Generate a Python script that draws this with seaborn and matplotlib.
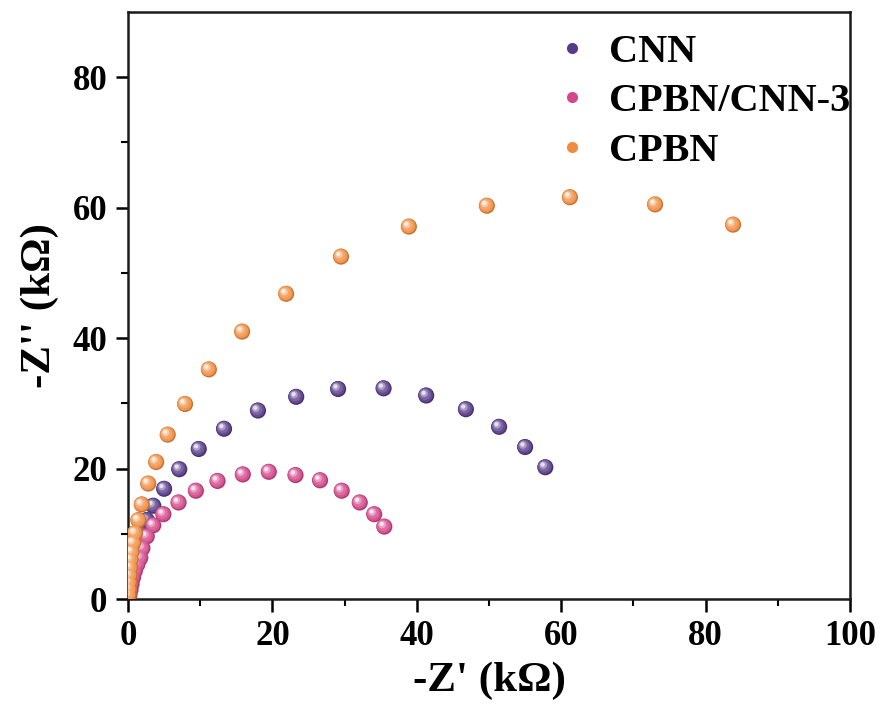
import numpy as np
import pandas as pd
import matplotlib
matplotlib.use("Agg")
import matplotlib.pyplot as plt
import matplotlib.transforms as mtransforms
from matplotlib.colors import to_rgb
from matplotlib.lines import Line2D
import seaborn as sns

# ---- data ----
series_names = ["CNN", "CPBN/CNN-3", "CPBN"]
cnn_x = [0.1, 0.2, 0.35, 0.55, 0.8, 1.2, 1.8, 2.6, 3.5, 5.0, 7.1, 9.8, 13.3, 18.0,
         23.3, 29.1, 35.4, 41.3, 46.8, 51.4, 55.0, 57.8]
cnn_y = [0.8, 1.8, 3.0, 4.5, 6.2, 8.1, 10.1, 12.1, 14.3, 16.9, 19.9, 23.0, 26.1, 28.9,
         31.0, 32.2, 32.3, 31.2, 29.1, 26.4, 23.3, 20.2]
mix_x = [0.2, 0.35, 0.5, 0.7, 0.95, 1.3, 1.7, 2.0, 2.6, 3.5, 4.9, 7.0, 9.4, 12.4,
         15.9, 19.5, 23.2, 26.6, 29.6, 32.1, 34.1, 35.5]
mix_y = [0.6, 1.4, 2.3, 3.3, 4.3, 5.3, 6.3, 7.8, 9.6, 11.3, 13.0, 14.8, 16.6, 18.1,
         19.1, 19.5, 19.0, 18.2, 16.6, 14.8, 13.0, 11.1]
cpbn_x = [0.08, 0.12, 0.16, 0.22, 0.3, 0.37, 0.5, 0.73, 0.97, 1.43, 1.9, 2.8, 3.9, 5.5,
          7.9, 11.2, 15.8, 21.9, 29.5, 38.9, 49.7, 61.2, 73.0, 83.8]
cpbn_y = [0.6, 1.5, 2.5, 3.6, 4.8, 6.0, 7.2, 8.6, 10.1, 12.1, 14.5, 17.7, 21.0, 25.2,
          29.9, 35.2, 41.0, 46.8, 52.5, 57.1, 60.3, 61.6, 60.5, 57.4]
colors = ["#573a88", "#d4458a", "#f08c40"]

x_ticks = [0, 20, 40, 60, 80, 100]
y_ticks = [0, 20, 40, 60, 80]

df = pd.concat([
    pd.DataFrame({"x": cnn_x, "y": cnn_y, "s": series_names[0]}),
    pd.DataFrame({"x": mix_x, "y": mix_y, "s": series_names[1]}),
    pd.DataFrame({"x": cpbn_x, "y": cpbn_y, "s": series_names[2]}),
])

sns.set_style("ticks")
plt.rcParams["font.family"] = ["Liberation Serif", "DejaVu Serif"]
plt.rcParams["font.weight"] = "bold"
for k in ["text.color", "axes.labelcolor", "xtick.color", "ytick.color", "axes.edgecolor"]:
    plt.rcParams[k] = "black"

fig = plt.figure(figsize=(8.81, 7.06), dpi=100)
ax = fig.add_axes([128 / 881, 1 - 599 / 706, (850 - 128) / 881, (599 - 12) / 706])


def lighten(c, f):
    r, g, b = to_rgb(c)
    return (r + (1 - r) * f, g + (1 - g) * f, b + (1 - b) * f)


def darken(c, f):
    r, g, b = to_rgb(c)
    return (r * (1 - f), g * (1 - f), b * (1 - f))


base_s = 135
layers = [  # (size factor, lighten, dx pt, dy pt) for the sphere shading
    (0.80, 0.08, -0.4, 0.4),
    (0.50, 0.22, -0.9, 0.9),
    (0.22, 0.50, -1.5, 1.5),
    (0.07, 0.85, -1.9, 1.9),
]

for name, col in zip(series_names, colors):
    sub = df[df["s"] == name]
    sns.scatterplot(data=sub, x="x", y="y", color=darken(col, 0.18), s=base_s,
                    edgecolor="none", linewidth=0, ax=ax, legend=False, zorder=3)
    for sf, lf, dx, dy in layers:
        tr = ax.transData + mtransforms.ScaledTranslation(dx / 72, dy / 72, fig.dpi_scale_trans)
        ax.scatter(sub["x"], sub["y"], s=base_s * sf, color=lighten(col, lf),
                   edgecolors="none", transform=tr, zorder=3)

ax.set_xlim(0, 100)
ax.set_ylim(0, 90)
ax.set_xticks(x_ticks)
ax.set_yticks(y_ticks)
ax.set_xticks([10, 30, 50, 70, 90], minor=True)
ax.set_yticks([10, 30, 50, 70], minor=True)
ax.set_xticklabels([str(t) for t in x_ticks])
ax.set_yticklabels([str(t) for t in y_ticks])
ax.tick_params(axis="both", which="major", direction="out", length=9, width=1.8,
               labelsize=25, pad=6, colors="black")
ax.tick_params(axis="both", which="minor", direction="out", length=5, width=1.5,
               colors="black")
for lab in ax.get_xticklabels() + ax.get_yticklabels():
    lab.set_fontweight("bold")
for sp in ax.spines.values():
    sp.set_visible(True)
    sp.set_linewidth(1.8)
    sp.set_color("#1a1a1a")

ax.set_xlabel("-Z' (kΩ)", fontsize=31, fontweight="bold", labelpad=6, color="black")
ax.set_ylabel("-Z'' (kΩ)", fontsize=31, fontweight="bold", labelpad=10, color="black")

handles = [Line2D([0], [0], marker="o", linestyle="none", markersize=8,
                  markerfacecolor=c, markeredgecolor="none") for c in colors]
leg = ax.legend(handles, series_names, loc="upper right", bbox_to_anchor=(1.022, 0.99),
                frameon=False, prop={"family": "Liberation Serif", "weight": "bold", "size": 29},
                handletextpad=0.4, labelspacing=0.30, handlelength=1.0, borderaxespad=0.0)
for t in leg.get_texts():
    t.set_color("black")

fig.savefig("out.png", dpi=100)
